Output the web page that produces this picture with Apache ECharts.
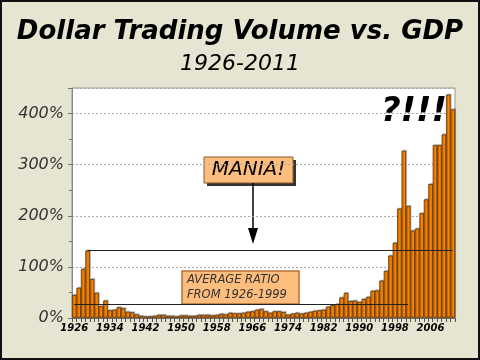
<!DOCTYPE html>
<html>
<head>
<meta charset="utf-8">
<script src="https://cdn.jsdelivr.net/npm/echarts@6/dist/echarts.min.js"></script>
<style>
html,body{margin:0;padding:0;background:#E5E5D1;}
#c{width:480px;height:360px;}
</style>
</head>
<body>
<div id="c"></div>
<script>
const years = [];
for (let y = 1926; y <= 2011; y++) years.push(String(y));

const ratio = [
  45, 59, 96, 132, 76, 49, 23, 34, 15, 16,
  21, 19, 12, 11, 7, 4, 3, 3, 4, 6,
  6, 4, 4, 3, 5, 5, 4, 4, 6, 6,
  6, 5, 6, 8, 7, 10, 9, 9, 10, 12,
  13, 16, 17.5, 13, 10, 13, 13, 11.5, 6.5, 8.5,
  10, 8.5, 10, 12, 14, 15, 16, 22, 25, 27,
  40, 49, 33, 34, 31, 37, 41, 53, 54, 73,
  92, 122, 147, 214, 327, 219, 171, 175, 205, 232,
  262, 338, 338, 359, 437, 408
];

const avgRatio = 26;
const maniaLevel = 132;
const yTicks = [0, 100, 200, 300, 400];

const chart = echarts.init(document.getElementById('c'), null, {renderer: 'canvas'});
const FONT = 'DejaVu Sans';

chart.setOption({
  backgroundColor: '#E5E5D1',
  animation: false,
  title: [
    {text: 'Dollar Trading Volume vs. GDP', left: 'center', top: 14,
     textStyle: {fontFamily: FONT, fontSize: 26, fontWeight: 'bold', fontStyle: 'italic', color: '#000'}},
    {text: '1926-2011', left: 'center', top: 48,
     textStyle: {fontFamily: FONT, fontSize: 22, fontWeight: 'normal', fontStyle: 'italic', color: '#000'}}
  ],
  grid: {left: 72, right: 25, top: 88, bottom: 42, show: true, backgroundColor: '#fff', borderColor: '#999', borderWidth: 1},
  xAxis: {
    type: 'category', data: years, boundaryGap: true,
    axisLine: {lineStyle: {color: '#777'}},
    axisTick: {show: true, interval: 0, length: 4, lineStyle: {color: '#555'}},
    axisLabel: {interval: 7, fontFamily: FONT, fontSize: 10, fontWeight: 'bold', fontStyle: 'italic', color: '#000', margin: 5}
  },
  yAxis: {
    type: 'value', min: 0, max: 450, interval: 100,
    axisLine: {show: true, lineStyle: {color: '#888'}},
    axisTick: {show: true, length: 4, lineStyle: {color: '#777'}},
    minorTick: {show: true, splitNumber: 2, length: 3, lineStyle: {color: '#777'}},
    splitLine: {show: true, lineStyle: {color: '#aaa', type: [2, 2]}},
    axisLabel: {
      fontFamily: FONT, fontSize: 16, fontStyle: 'italic', color: '#333', margin: 8,
      formatter: v => (yTicks.indexOf(v) >= 0 ? v + '%' : '')
    }
  },
  series: [{
    type: 'bar', data: ratio, barCategoryGap: '0%',
    itemStyle: {color: '#F98200', borderColor: '#4a2600', borderWidth: 0.7,
      shadowColor: 'rgba(0,0,0,0.25)', shadowOffsetX: 1, shadowOffsetY: -1, shadowBlur: 0},
    markLine: {
      silent: true, symbol: 'none', label: {show: false},
      lineStyle: {color: '#222', type: 'solid', width: 1},
      data: [
        [{coord: ['1926', avgRatio]}, {coord: ['2001', avgRatio]}],
        [{coord: ['1929', maniaLevel]}, {coord: ['2011', maniaLevel]}]
      ]
    }
  }],
  graphic: [
    {type: 'rect', shape: {x: 1, y: 1, width: 478, height: 358}, style: {fill: 'none', stroke: '#111', lineWidth: 2}},
    // MANIA box with shadow
    {type: 'rect', shape: {x: 207, y: 160, width: 89, height: 26}, style: {fill: '#333'}},
    {type: 'rect', shape: {x: 204, y: 157, width: 89, height: 26}, style: {fill: '#FDBE7D', stroke: '#8a5a2a', lineWidth: 1}},
    {type: 'text', x: 248.5, y: 170, style: {text: 'MANIA!', fontFamily: FONT, fontSize: 20, fontStyle: 'italic', fill: '#000', align: 'center', verticalAlign: 'middle'}},
    {type: 'line', shape: {x1: 253, y1: 183, x2: 253, y2: 232}, style: {stroke: '#000', lineWidth: 1.5}},
    {type: 'polygon', shape: {points: [[248, 228], [258, 228], [253, 244]]}, style: {fill: '#000'}},
    // AVERAGE box
    {type: 'rect', shape: {x: 182, y: 271, width: 117, height: 33}, style: {fill: '#FDBE7D', stroke: '#B0703A', lineWidth: 1.5}},
    {type: 'text', x: 187, y: 287.5, style: {text: 'AVERAGE RATIO\nFROM 1926-1999', fontFamily: FONT, fontSize: 11.5, fontStyle: 'italic', fill: '#333', align: 'left', verticalAlign: 'middle', lineHeight: 15}},
    {type: 'text', x: 414, y: 112, style: {text: '?!!!', fontFamily: FONT, fontSize: 34, fontWeight: 'bold', fontStyle: 'italic', fill: '#000', align: 'center', verticalAlign: 'middle'}}
  ]
});
</script>
</body>
</html>
